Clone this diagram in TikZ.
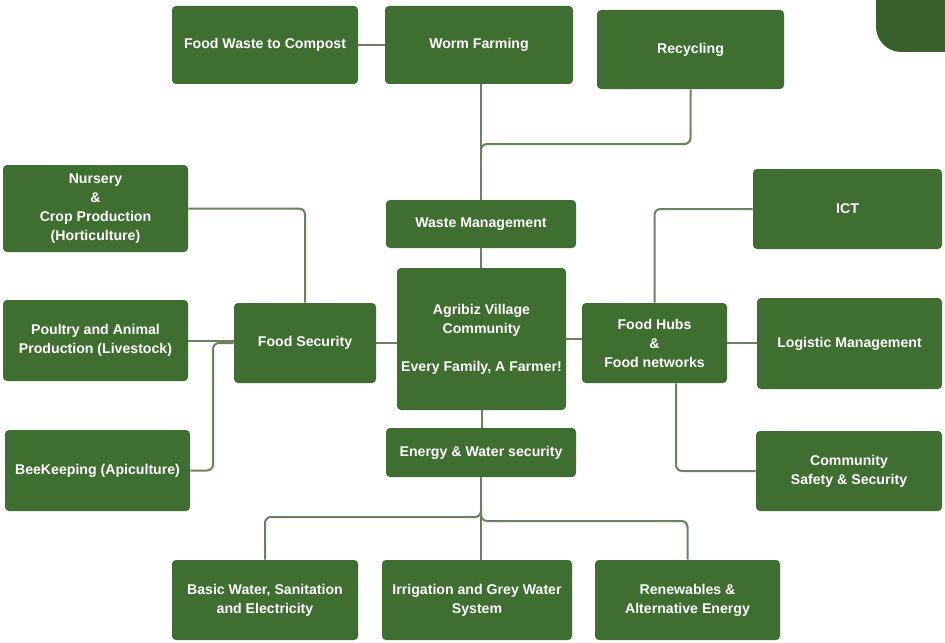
\documentclass[tikz,border=0pt]{standalone}
\usepackage{fontspec}
\setmainfont{Liberation Sans}
\usetikzlibrary{calc}
\definecolor{boxgreen}{HTML}{3E6E30}
\definecolor{darkgreen}{HTML}{3A612D}
\definecolor{linecol}{HTML}{6A8260}
\tikzset{
  box/.style={draw=none, fill=boxgreen, rounded corners=3pt, text=white,
    align=center, inner sep=1pt,
    font=\fontsize{10.6}{14.25}\selectfont\bfseries},
  conn/.style={draw=linecol, line width=1.5pt, rounded corners=4.5pt}
}
\begin{document}
\begin{tikzpicture}[x=0.75pt,y=-0.75pt]
\useasboundingbox (0,0) rectangle (945,642);
\fill[white] (0,0) rectangle (945,642);
% top-right partial shape
\fill[darkgreen, rounded corners=19pt] (876,-40) rectangle (990,52);
% nodes
\node[box, minimum width=139.5pt, minimum height=58.5pt] (fwc) at (265,45) {Food Waste to Compost};
\node[box, minimum width=141pt, minimum height=58.5pt] (worm) at (479,45) {Worm Farming};
\node[box, minimum width=140.25pt, minimum height=59.25pt] (recy) at (690.5,49.5) {Recycling};
\node[box, minimum width=142.5pt, minimum height=36pt] (waste) at (481,224) {Waste Management};
\node[box, minimum width=126.75pt, minimum height=106.5pt] (agri) at (481.5,339) {Agribiz Village\\Community\\\mbox{}\\Every Family, A Farmer!};
\node[box, minimum width=142.5pt, minimum height=36.75pt] (energy) at (481,452.5) {Energy \& Water security};
\node[box, minimum width=139.5pt, minimum height=60pt] (basic) at (265,600) {Basic Water, Sanitation\\and Electricity};
\node[box, minimum width=142.5pt, minimum height=60pt] (irr) at (477,600) {Irrigation and Grey Water\\System};
\node[box, minimum width=138.75pt, minimum height=60pt] (renew) at (687.5,600) {Renewables \&\\Alternative Energy};
\node[box, minimum width=138.75pt, minimum height=65.25pt] (nursery) at (95.5,208.5) {Nursery\\\&\\Crop Production\\(Horticulture)};
\node[box, minimum width=138.75pt, minimum height=60.75pt] (poultry) at (95.5,340.5) {Poultry and Animal\\Production (Livestock)};
\node[box, minimum width=138.75pt, minimum height=60.75pt] (bee) at (97.5,470.5) {BeeKeeping (Apiculture)};
\node[box, minimum width=106.5pt, minimum height=60pt] (foodsec) at (305,343) {Food Security};
\node[box, minimum width=108.75pt, minimum height=60pt] (hubs) at (654.5,343) {Food Hubs\\\&\\Food networks};
\node[box, minimum width=141.75pt, minimum height=60pt] (ict) at (847.5,209) {ICT};
\node[box, minimum width=138.75pt, minimum height=68.25pt] (logi) at (849.5,343.5) {Logistic Management};
\node[box, minimum width=139.5pt, minimum height=60pt] (comm) at (849,471) {Community\\Safety \& Security};
% junction coordinates
\coordinate (jw) at (481,144);
\coordinate (jwl) at (481,160);
\coordinate (je1) at (481,505);
\coordinate (je2) at (481,510);
\coordinate (jel) at (481,517);
\coordinate (jer) at (481,521);
\coordinate (jb) at (213,470.5);
\coordinate (jf) at (213,343);
\coordinate (hb) at ($(hubs.south)+(21.5,0)$);
% connectors
\draw[conn] (fwc.east) -- (worm.west);
\draw[conn] (waste.north) -- (waste.north |- worm.south);
\draw[conn] (recy.south) -- (recy.south |- jw) -- (jw) -- (jwl);
\draw[conn] (waste.south) -- (waste.south |- agri.north);
\draw[conn] (agri.south) -- (agri.south |- energy.north);
\draw[conn] (energy.south) -- (energy.south |- irr.north);
\draw[conn] (je1) -- (jel) -- (jel -| basic.north) -- (basic.north);
\draw[conn] (je2) -- (jer) -- (jer -| renew.north) -- (renew.north);
\draw[conn] (nursery.east) -- (nursery.east -| foodsec.north) -- (foodsec.north);
\draw[conn] (poultry.east) -- (poultry.east -| foodsec.west);
\draw[conn] (bee.east) -- (jb) -- (jf) -- (foodsec.west);
\draw[conn] (foodsec.east) -- (foodsec.east -| agri.west);
\draw[conn] (agri.east) -- (agri.east -| hubs.west);
\draw[conn] (hubs.north) -- (hubs.north |- ict.west) -- (ict.west);
\draw[conn] (hubs.east) -- (hubs.east -| logi.west);
\draw[conn] (hb) -- (hb |- comm.west) -- (comm.west);
\end{tikzpicture}
\end{document}
